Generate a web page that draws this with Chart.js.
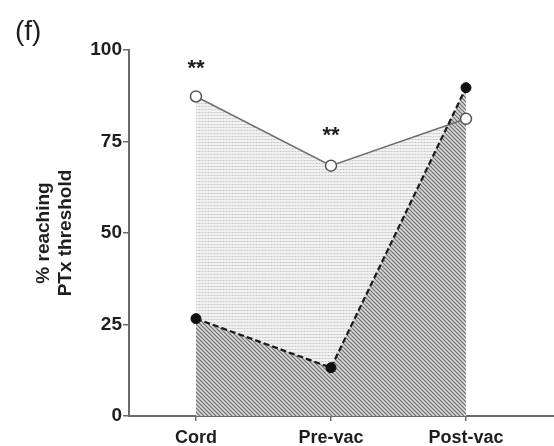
<!DOCTYPE html>
<html>
<head>
<meta charset="utf-8">
<script src="https://cdn.jsdelivr.net/npm/chart.js@4"></script>
<style>
  html, body { margin: 0; padding: 0; background: #fff; }
  #wrap { width: 554px; height: 446px; }
</style>
</head>
<body>
<div id="wrap"><canvas id="chart"></canvas></div>
<script>
const categories = ['Cord', 'Pre-vac', 'Post-vac']
const openValues = [87.3, 68.4, 81.2]     // open circles, solid line
const filledValues = [26.6, 13.2, 89.7]   // filled circles, dashed line
const yTicks = [0, 25, 50, 75, 100]
const sigMarks = ['**', '**', '']
const sigLevels = [96, 77.5, null]

const axisColor = '#6a6a6a'
const textColor = '#1e1e1e'

// small tiles for the textured fills
function makeDots () {
  const c = document.createElement('canvas')
  c.width = 3; c.height = 3
  const g = c.getContext('2d')
  g.fillStyle = '#f1f1f1'; g.fillRect(0, 0, 3, 3)
  g.fillStyle = '#dedede'; g.fillRect(0, 1, 3, 1)
  g.fillStyle = '#c8c8c8'; g.fillRect(1, 1, 1, 1)
  return g.createPattern(c, 'repeat')
}

function makeHatch () {
  const n = 4
  const c = document.createElement('canvas')
  c.width = n; c.height = n
  const g = c.getContext('2d')
  g.fillStyle = '#b6b6b6'; g.fillRect(0, 0, n, n)
  for (let x = 0; x < n; x++) {
    for (let y = 0; y < n; y++) {
      const d = ((x - y) % n + n) % n
      if (d === 0) { g.fillStyle = '#747474'; g.fillRect(x, y, 1, 1) }
      if (d === 2) { g.fillStyle = '#dadada'; g.fillRect(x, y, 1, 1) }
    }
  }
  return g.createPattern(c, 'repeat')
}

const extras = {
  id: 'extras',
  afterDraw (chart) {
    const ctx = chart.ctx
    const xs = chart.scales.x, ys = chart.scales.y
    ctx.save()
    ctx.fillStyle = textColor
    ctx.font = '28px "Liberation Sans", Arial, sans-serif'
    ctx.textAlign = 'left'
    ctx.textBaseline = 'alphabetic'
    ctx.fillText('(f)', 15, 40)
    ctx.font = 'bold 22px "Liberation Sans", Arial, sans-serif'
    ctx.textAlign = 'center'
    ctx.textBaseline = 'middle'
    sigMarks.forEach((m, i) => {
      if (!m || sigLevels[i] == null) return
      ctx.fillText(m, xs.getPixelForValue(i), ys.getPixelForValue(sigLevels[i]) + 4)
    })
    ctx.restore()
  }
}

const chart = new Chart(document.getElementById('chart'), {
  type: 'line',
  data: {
    datasets: [{
      label: 'filled',
      data: filledValues.map((v, i) => ({ x: i, y: v })),
      order: 1,
      borderColor: '#1a1a1a',
      borderWidth: 2.2,
      borderDash: [6, 3],
      pointRadius: 5,
      pointBackgroundColor: '#111',
      pointBorderColor: '#111',
      pointBorderWidth: 1,
      fill: 'origin',
      backgroundColor: makeHatch(),
      tension: 0
    }, {
      label: 'open',
      data: openValues.map((v, i) => ({ x: i, y: v })),
      order: 2,
      borderColor: '#6e6e6e',
      borderWidth: 1.5,
      pointRadius: 5.5,
      pointBackgroundColor: '#fff',
      pointBorderColor: '#555',
      pointBorderWidth: 1.5,
      fill: 'origin',
      backgroundColor: makeDots(),
      tension: 0
    }]
  },
  options: {
    responsive: true,
    maintainAspectRatio: false,
    animation: false,
    layout: { autoPadding: false, padding: { top: 50, right: 0, bottom: 0, left: 0 } },
    plugins: {
      legend: { display: false },
      tooltip: { enabled: false },
      filler: { drawTime: 'beforeDatasetsDraw' }
    },
    scales: {
      x: {
        type: 'linear',
        min: -0.496,
        max: 2.652,
        afterBuildTicks: (scale) => { scale.ticks = categories.map((c, i) => ({ value: i })) },
        afterFit: (scale) => { scale.height = 30 },
        border: { color: axisColor, width: 2 },
        grid: { drawOnChartArea: false, color: axisColor, tickLength: 5, lineWidth: 1.5 },
        ticks: {
          autoSkip: false,
          maxRotation: 0,
          padding: 6,
          color: textColor,
          font: { family: '"Liberation Sans", Arial, sans-serif', size: 18, weight: 'bold' },
          callback: (v) => categories[v] ?? ''
        }
      },
      y: {
        min: 0,
        max: 100,
        afterBuildTicks: (scale) => { scale.ticks = yTicks.map(v => ({ value: v })) },
        afterFit: (scale) => { scale.width = 129 },
        border: { color: axisColor, width: 2 },
        grid: { drawOnChartArea: false, color: axisColor, tickLength: 6, lineWidth: 1.5 },
        ticks: {
          padding: 1,
          color: textColor,
          font: { family: '"Liberation Sans", Arial, sans-serif', size: 19, weight: 'bold' }
        },
        title: {
          display: true,
          text: ['% reaching', 'PTx threshold'],
          color: textColor,
          padding: { top: 33, bottom: 0 },
          font: { family: '"Liberation Sans", Arial, sans-serif', size: 19, weight: 'bold', lineHeight: 1.15 }
        }
      }
    }
  },
  plugins: [extras]
})
</script>
</body>
</html>
